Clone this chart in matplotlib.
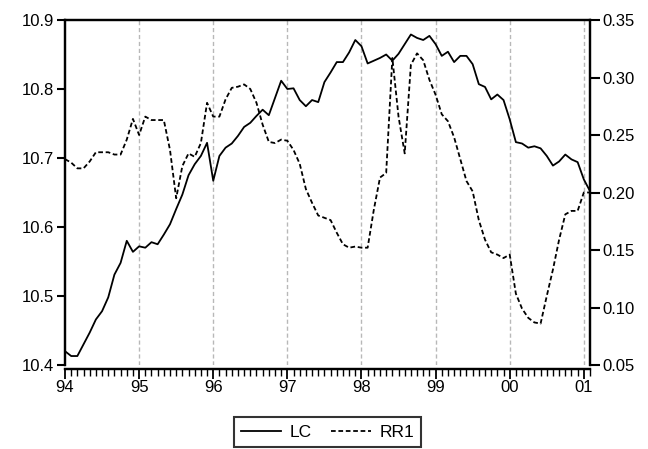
import numpy as np
import matplotlib
matplotlib.use("Agg")
import matplotlib.pyplot as plt
from matplotlib.ticker import MultipleLocator, FixedLocator

# monthly data, 1994:01 - 2001:02
lc = [10.420, 10.413, 10.413, 10.430, 10.447, 10.466, 10.478, 10.498, 10.531, 10.548,
      10.580, 10.564, 10.572, 10.570, 10.578, 10.575, 10.589, 10.604, 10.626, 10.647,
      10.675, 10.691, 10.703, 10.722, 10.667, 10.703, 10.715, 10.721, 10.732, 10.745,
      10.751, 10.761, 10.770, 10.762, 10.787, 10.812, 10.800, 10.801, 10.784, 10.775,
      10.784, 10.781, 10.810, 10.824, 10.839, 10.839, 10.853, 10.871, 10.862, 10.837,
      10.841, 10.845, 10.850, 10.841, 10.851, 10.865, 10.879, 10.874, 10.871, 10.877,
      10.865, 10.848, 10.854, 10.839, 10.848, 10.848, 10.836, 10.807, 10.803, 10.785,
      10.792, 10.784, 10.756, 10.723, 10.721, 10.715, 10.717, 10.714, 10.703, 10.689,
      10.695, 10.705, 10.698, 10.694, 10.669, 10.652]

rr1 = [0.229, 0.226, 0.221, 0.221, 0.227, 0.235, 0.235, 0.235, 0.233, 0.233,
       0.246, 0.264, 0.250, 0.266, 0.263, 0.263, 0.263, 0.237, 0.195, 0.223,
       0.234, 0.231, 0.243, 0.278, 0.266, 0.266, 0.281, 0.291, 0.292, 0.294,
       0.290, 0.278, 0.259, 0.244, 0.243, 0.246, 0.245, 0.237, 0.225, 0.203,
       0.191, 0.180, 0.178, 0.176, 0.165, 0.155, 0.152, 0.153, 0.152, 0.152,
       0.185, 0.213, 0.217, 0.317, 0.266, 0.234, 0.311, 0.321, 0.315, 0.298,
       0.285, 0.268, 0.262, 0.248, 0.229, 0.210, 0.201, 0.176, 0.159, 0.148,
       0.146, 0.143, 0.146, 0.112, 0.099, 0.091, 0.087, 0.086, 0.110, 0.133,
       0.159, 0.181, 0.184, 0.184, 0.200, 0.200]

year_labels = ["94", "95", "96", "97", "98", "99", "00", "01"]

plt.rcParams['font.family'] = ['Liberation Sans', 'DejaVu Sans']

months = np.arange(len(lc))
year_pos = np.arange(len(year_labels)) * 12

fig = plt.figure(figsize=(6.48, 4.49), dpi=100)
ax = fig.add_axes([65 / 648, 1 - 365 / 449, 525 / 648, 345 / 449])
ax2 = ax.twinx()

# year grid lines
for xp in year_pos[1:]:
    ax.axvline(xp, color='#b8b8b8', linestyle=(0, (3, 2)), linewidth=1.0, zorder=0)

l1, = ax.plot(months, lc, color='black', linewidth=1.3, label='LC')
l2, = ax2.plot(months, rr1, color='black', linewidth=1.3,
               linestyle=(0, (2.6, 1.5)), label='RR1')

ax.set_xlim(0, len(lc) - 1)
ax.set_ylim(10.4, 10.9)
ax2.set_ylim(0.05, 0.35)

ax.yaxis.set_major_locator(MultipleLocator(0.1))
ax2.yaxis.set_major_locator(MultipleLocator(0.05))
ax.yaxis.set_major_formatter(plt.FuncFormatter(lambda v, p: f"{v:.1f}"))
ax2.yaxis.set_major_formatter(plt.FuncFormatter(lambda v, p: f"{v:.2f}"))

ax.xaxis.set_major_locator(FixedLocator(year_pos))
ax.set_xticklabels(year_labels)
ax.xaxis.set_minor_locator(MultipleLocator(1))

for a in (ax, ax2):
    for s in a.spines.values():
        s.set_linewidth(1.6)
    a.spines['bottom'].set_position(('outward', 3))
ax.tick_params(axis='x', which='major', length=7, width=1.3, labelsize=12, pad=1)
ax.tick_params(axis='x', which='minor', length=5, width=1.0)
ax.tick_params(axis='y', length=6, width=1.5, labelsize=12, pad=2)
ax2.tick_params(axis='y', length=7, width=1.5, labelsize=12, pad=2)

fig.legend(handles=[l1, l2], loc='center', bbox_to_anchor=(327.5 / 648, 1 - 432 / 449),
           ncol=2, fontsize=12.5, frameon=True, fancybox=False, edgecolor='black',
           handlelength=2.3, handletextpad=0.5, columnspacing=1.1, borderpad=0.4)
leg = fig.legends[0]
leg.get_frame().set_linewidth(1.5)

fig.savefig('out.png', dpi=100)
